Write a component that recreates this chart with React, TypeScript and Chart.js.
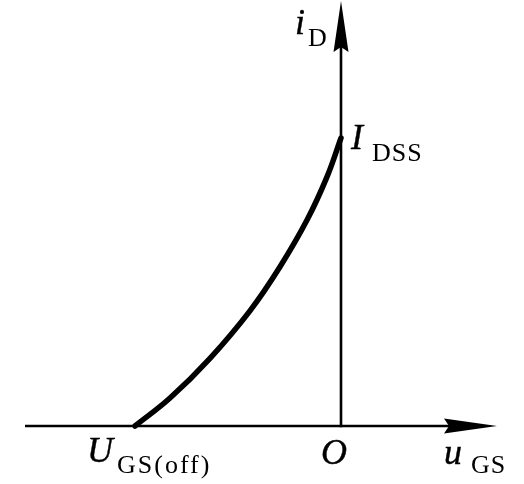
import React, { useEffect, useRef } from "react";
import { Chart, registerables } from "chart.js";

Chart.register(...registerables);

// Transfer characteristic of a depletion-mode JFET (normalised units)
// u: u_GS / |U_GS(off)|, i: i_D / I_DSS
const uValues = [-1.0, -0.83, -0.636, -0.442, -0.296, -0.165, -0.068, 0.0];
const iValues = [0.0, 0.097, 0.235, 0.4, 0.553, 0.715, 0.865, 1.0];

const axisLabelMain = { vertical: "i", horizontal: "u", origin: "O", iMax: "I", uOff: "U" };
const axisLabelSub = { vertical: "D", horizontal: "GS", iMax: "DSS", uOff: "GS(off)" };

const SERIF = "'Liberation Serif', 'DejaVu Serif', serif";

const axesPlugin = {
  id: "fetAxes",
  beforeDatasetsDraw(chart: any) {
    const { ctx, scales } = chart;
    const xs = scales.x;
    const ys = scales.y;
    const x0 = Math.round(xs.getPixelForValue(0));
    const y0 = Math.round(ys.getPixelForValue(0));
    ctx.save();
    ctx.strokeStyle = "#000";
    ctx.fillStyle = "#000";
    ctx.lineWidth = 2.6;
    // horizontal axis
    ctx.beginPath();
    ctx.moveTo(25, y0);
    ctx.lineTo(455, y0);
    ctx.stroke();
    // vertical axis
    ctx.beginPath();
    ctx.moveTo(x0, y0 + 1.3);
    ctx.lineTo(x0, 40);
    ctx.stroke();
    // vertical arrowhead
    ctx.beginPath();
    ctx.moveTo(x0, 1);
    ctx.lineTo(x0 + 7.5, 52);
    ctx.lineTo(x0, 47);
    ctx.lineTo(x0 - 7.5, 52);
    ctx.closePath();
    ctx.fill();
    // horizontal arrowhead
    ctx.beginPath();
    ctx.moveTo(497, y0);
    ctx.lineTo(444, y0 - 7.5);
    ctx.lineTo(449, y0);
    ctx.lineTo(444, y0 + 7.5);
    ctx.closePath();
    ctx.fill();
    ctx.restore();
  },
  afterDatasetsDraw(chart: any) {
    const { ctx } = chart;
    ctx.save();
    ctx.fillStyle = "#000";
    ctx.strokeStyle = "#000";
    ctx.textBaseline = "alphabetic";
    const main = (t: string, x: number, y: number) => {
      ctx.font = `italic 36px ${SERIF}`;
      (ctx as any).letterSpacing = "0px";
      ctx.lineWidth = 0.4;
      ctx.fillText(t, x, y);
      ctx.strokeText(t, x, y);
    };
    const sub = (t: string, x: number, y: number, sp = "1px") => {
      ctx.font = `26px ${SERIF}`;
      (ctx as any).letterSpacing = sp;
      ctx.fillText(t, x, y);
    };
    main(axisLabelMain.vertical, 295, 34);
    sub(axisLabelSub.vertical, 308, 46);
    main(axisLabelMain.iMax, 351, 149);
    sub(axisLabelSub.iMax, 372, 161);
    main(axisLabelMain.uOff, 87, 462);
    sub(axisLabelSub.uOff, 117, 473, "2px");
    main(axisLabelMain.origin, 321, 464);
    main(axisLabelMain.horizontal, 444, 464);
    sub(axisLabelSub.horizontal, 471, 473);
    ctx.restore();
  },
};

export default function App() {
  const ref = useRef<HTMLCanvasElement | null>(null);
  useEffect(() => {
    if (!ref.current) return;
    const chart = new Chart(ref.current, {
      type: "scatter",
      data: {
        datasets: [
          {
            data: uValues.map((u, k) => ({ x: u, y: iValues[k] })),
            showLine: true,
            borderColor: "#000",
            borderWidth: 5.5,
            pointRadius: 0,
            tension: 0.4,
            borderCapStyle: "round",
            borderJoinStyle: "round",
          } as any,
        ],
      },
      options: {
        animation: false,
        responsive: false,
        layout: { padding: 0 },
        plugins: { legend: { display: false }, tooltip: { enabled: false } },
        scales: {
          x: { type: "linear", min: -341 / 206, max: (524 - 341) / 206, display: false },
          y: { type: "linear", min: -(484 - 426) / 288, max: 426 / 288, display: false },
        },
      },
      plugins: [axesPlugin],
    });
    return () => chart.destroy();
  }, []);
  return (
    <div style={{ position: "absolute", left: 0, top: 0, width: 524, height: 484, background: "#fff" }}>
      <canvas ref={ref} width={524} height={484} style={{ display: "block" }} />
    </div>
  );
}
